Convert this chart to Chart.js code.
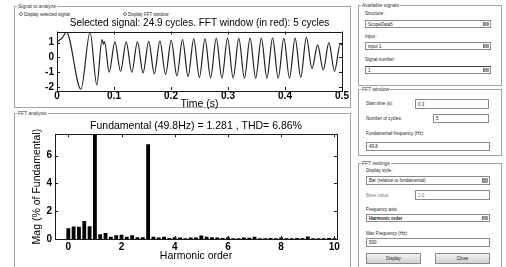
<!DOCTYPE html>
<html lang="en">
<head>
<meta charset="UTF-8">
<title>FFT Analysis</title>
<script src="https://cdn.jsdelivr.net/npm/chart.js@4.4.1/dist/chart.umd.min.js"></script>
<style>
    body {
        margin: 0;
        width: 506px;
        height: 267px;
        overflow: hidden;
        position: relative;
        background: #fff;
        font-family: Arial, "Liberation Sans", sans-serif;
    }
    .panel {
        position: absolute;
        border: 1px solid #a4a4a4;
        box-sizing: border-box;
    }
    .panel-title {
        position: absolute;
        top: -4px;
        left: 2px;
        padding: 0 1px;
        background: #fff;
        font-size: 5px;
        line-height: 7px;
        color: #333;
        white-space: nowrap;
    }
    .lbl {
        position: absolute;
        font-size: 4.5px;
        line-height: 5px;
        color: #222;
        white-space: nowrap;
    }
    .box {
        position: absolute;
        box-sizing: border-box;
        border: 1px solid #8a8a8a;
        background: #fff;
        font-size: 4.5px;
        color: #222;
        padding-left: 2px;
        white-space: nowrap;
        display: flex;
        align-items: center;
    }
    .sel .arrow {
        position: absolute;
        right: 1px;
        top: 1px;
        bottom: 1px;
        width: 5px;
        background: #9a9a9a;
        border-left: 1px solid #777;
    }
    .btn {
        position: absolute;
        box-sizing: border-box;
        border: 1px solid #8a8a8a;
        background: linear-gradient(#f4f4f4, #cfcfcf);
        font-size: 4.5px;
        color: #222;
        display: flex;
        align-items: center;
        justify-content: center;
    }
    .radio {
        position: absolute;
        width: 4px;
        height: 4px;
        border: 1px solid #777;
        border-radius: 50%;
        box-sizing: border-box;
        background: #fff;
    }
    canvas { position: absolute; }
</style>
</head>
<body>
    <!-- left side: signal and FFT plots -->
    <div class="panel" style="left:14px; top:6px; width:337px; height:102px;">
        <span class="panel-title">Signal to analyze</span>
    </div>
    <div class="radio" style="left:19px; top:12px; background:radial-gradient(#333 40%, #fff 45%);"></div>
    <span class="lbl" style="left:24px; top:12px;">Display selected signal</span>
    <div class="radio" style="left:123px; top:12px;"></div>
    <span class="lbl" style="left:128px; top:12px;">Display FFT window</span>

    <div class="panel" style="left:14px; top:113px; width:337px; height:170px;">
        <span class="panel-title">FFT analysis</span>
    </div>

    <canvas id="signalChart" width="336" height="96" style="left:14px; top:14px;"></canvas>
    <canvas id="fftChart" width="336" height="150" style="left:14px; top:116px;"></canvas>

    <!-- right side: controls -->
    <div class="panel" style="left:358px; top:5px; width:144px; height:81px;">
        <span class="panel-title">Available signals</span>
    </div>
    <span class="lbl" style="left:365px; top:11px;">Structure :</span>
    <div class="box sel" style="left:365px; top:20px; width:126px; height:8px;">ScopeData5<span class="arrow"></span></div>
    <span class="lbl" style="left:365px; top:34px;">Input :</span>
    <div class="box sel" style="left:365px; top:42px; width:126px; height:8px;">input 1<span class="arrow"></span></div>
    <span class="lbl" style="left:365px; top:57px;">Signal number :</span>
    <div class="box sel" style="left:365px; top:66px; width:126px; height:8px; border-top-color:#444;">1<span class="arrow"></span></div>

    <div class="panel" style="left:358px; top:89px; width:144px; height:67px;">
        <span class="panel-title">FFT window</span>
    </div>
    <span class="lbl" style="left:366px; top:101px;">Start time (s):</span>
    <div class="box" style="left:415px; top:99px; width:74px; height:10px;">0.3</div>
    <span class="lbl" style="left:366px; top:116px;">Number of cycles:</span>
    <div class="box" style="left:433px; top:114px; width:56px; height:9px;">5</div>
    <span class="lbl" style="left:366px; top:131px;">Fundamental frequency (Hz):</span>
    <div class="box" style="left:366px; top:142px; width:124px; height:9px;">49.8</div>

    <div class="panel" style="left:358px; top:163px; width:144px; height:110px;">
        <span class="panel-title">FFT settings</span>
    </div>
    <span class="lbl" style="left:366px; top:168px;">Display style :</span>
    <div class="box sel" style="left:366px; top:176px; width:124px; height:9px;">Bar (relative to fundamental)<span class="arrow"></span></div>
    <span class="lbl" style="left:366px; top:193px; color:#888;">Base value:</span>
    <div class="box" style="left:415px; top:190px; width:75px; height:10px; color:#777;">1.0</div>
    <span class="lbl" style="left:366px; top:207px;">Frequency axis:</span>
    <div class="box sel" style="left:366px; top:214px; width:124px; height:8px; font-weight:bold;">Harmonic order<span class="arrow"></span></div>
    <span class="lbl" style="left:366px; top:231px;">Max Frequency (Hz):</span>
    <div class="box" style="left:366px; top:238px; width:124px; height:9px;">500</div>
    <div class="btn" style="left:366px; top:253px; width:55px; height:11px;">Display</div>
    <div class="btn" style="left:435px; top:253px; width:55px; height:11px;">Close</div>

<script>
    // selected signal: peaks and troughs (s, value)
    const signalTime = [
        0, 0.004, 0.009, 0.0165, 0.042, 0.058, 0.0698, 0.079, 0.0815, 0.0835, 0.0915,
        0.1016, 0.1115, 0.1214, 0.1312, 0.1411, 0.1510, 0.1609, 0.1707, 0.1806, 0.1905,
        0.2004, 0.2103, 0.2202, 0.2300, 0.2399, 0.2498, 0.2597, 0.2695, 0.2794, 0.2893,
        0.2992, 0.3091, 0.3190, 0.3288, 0.3387, 0.3486, 0.3585, 0.3683, 0.3782, 0.3881,
        0.3980, 0.4079, 0.4178, 0.4276, 0.4375, 0.4474, 0.4573, 0.4671, 0.4770, 0.4869,
        0.4968, 0.5
    ];
    const signalValue = [
        1.0, 1.15, 1.3, 1.7, -2.15, 1.7, -1.85, 1.2, 0.9, 1.05, -1.0,
        1.05, -0.95, 1.05, -1.0, 1.05, -1.05, 1.08, -1.1, 1.1, -1.15,
        1.15, -1.25, 1.2, -1.3, 1.25, -1.35, 1.25, -1.38, 1.28, -1.4,
        1.28, -1.4, 1.28, -1.4, 1.3, -1.4, 1.3, -1.4, 1.3, -1.4,
        1.28, -1.4, 1.3, -1.35, 1.35, -0.75, 0.85, -0.85, 1.0, -0.95,
        0.9, 0.85
    ];
    const timeTicks = [0, 0.1, 0.2, 0.3, 0.4, 0.5];
    const signalTicks = [-2, -1, 0, 1];

    // FFT bars, % of fundamental
    const harmonicOrder = [
        0, 0.2, 0.4, 0.6, 0.8, 1, 1.2, 1.4, 1.6, 1.8,
        2, 2.2, 2.4, 2.6, 2.8, 3, 3.2, 3.4, 3.6, 3.8,
        4, 4.2, 4.4, 4.6, 4.8, 5, 5.2, 5.4, 5.6, 5.8,
        6, 6.2, 6.4, 6.6, 6.8, 7, 7.2, 7.4, 7.6, 7.8,
        8, 8.2, 8.4, 8.6, 8.8, 9, 9.2, 9.4, 9.6, 9.8, 10
    ];
    const harmonicMag = [
        0.78, 0.90, 0.88, 1.30, 0.92, 100, 0.34, 0.44, 0.17, 0.27,
        0.30, 0.17, 0.27, 0.12, 0.13, 6.83, 0.17, 0.10, 0.16, 0.07,
        0.12, 0.10, 0.05, 0.10, 0.10, 0.25, 0.16, 0.12, 0.10, 0.08,
        0.12, 0.05, 0.05, 0.10, 0.09, 0.16, 0.06, 0.05, 0.08, 0.05,
        0.10, 0.05, 0.06, 0.08, 0.07, 0.18, 0.06, 0.05, 0.05, 0.07, 0.06
    ];
    const orderTicks = [0, 2, 4, 6, 8, 10];
    const magTicks = [0, 2, 4, 6];

    const FONT = 'Arial, "Liberation Sans", sans-serif';

    // MATLAB-like box with inward tick marks on all four sides
    const axesBox = {
        id: 'axesBox',
        afterDraw(chart) {
            const { ctx, chartArea: a, scales } = chart;
            const len = 3;
            ctx.save();
            ctx.strokeStyle = '#1a1a1a';
            ctx.lineWidth = 1;
            ctx.strokeRect(Math.round(a.left) + 0.5, Math.round(a.top) + 0.5,
                Math.round(a.width), Math.round(a.height));
            ctx.beginPath();
            scales.x.ticks.forEach(t => {
                const px = Math.round(scales.x.getPixelForValue(t.value)) + 0.5;
                ctx.moveTo(px, a.bottom); ctx.lineTo(px, a.bottom - len);
                ctx.moveTo(px, a.top); ctx.lineTo(px, a.top + len);
            });
            scales.y.ticks.forEach(t => {
                const py = Math.round(scales.y.getPixelForValue(t.value)) + 0.5;
                ctx.moveTo(a.left, py); ctx.lineTo(a.left + len, py);
                ctx.moveTo(a.right, py); ctx.lineTo(a.right - len, py);
            });
            ctx.stroke();
            ctx.restore();
        }
    };

    function tickFont() {
        return { family: FONT, size: 10, weight: 'bold' };
    }

    new Chart(document.getElementById('signalChart'), {
        type: 'line',
        data: {
            datasets: [{
                data: signalTime.map((t, i) => ({ x: t, y: signalValue[i] })),
                borderColor: '#222',
                borderWidth: 1.2,
                pointRadius: 0,
                cubicInterpolationMode: 'monotone'
            }]
        },
        options: {
            responsive: false,
            animation: false,
            events: [],
            layout: { padding: { left: 0, right: 8, top: 0, bottom: 0 } },
            plugins: {
                legend: { display: false },
                tooltip: { enabled: false },
                title: {
                    display: true,
                    fullSize: false,
                    text: 'Selected signal: 24.9 cycles. FFT window (in red): 5 cycles',
                    color: '#000',
                    font: { family: FONT, size: 10, weight: 'normal' },
                    padding: { top: 3.5, bottom: 2 }
                }
            },
            scales: {
                x: {
                    type: 'linear',
                    min: 0,
                    max: 0.5,
                    grid: { display: false, drawTicks: false },
                    border: { display: false },
                    afterBuildTicks: s => { s.ticks = timeTicks.map(v => ({ value: v })); },
                    afterFit: s => { s.height = 20; s.paddingLeft = 0; s.paddingRight = 0; },
                    ticks: {
                        color: '#000', font: tickFont(), padding: 0,
                        maxRotation: 0, autoSkip: false,
                        callback: v => String(v)
                    },
                    title: {
                        display: true, text: 'Time (s)', color: '#000',
                        font: { family: FONT, size: 10.5 },
                        padding: { top: 0, bottom: 0 }
                    }
                },
                y: {
                    min: -2.2,
                    max: 1.75,
                    grid: { display: false, drawTicks: false },
                    border: { display: false },
                    afterBuildTicks: s => { s.ticks = signalTicks.map(v => ({ value: v })); },
                    afterFit: s => { s.width = 43; },
                    ticks: { color: '#000', font: tickFont(), padding: 3 }
                }
            }
        },
        plugins: [axesBox]
    });

    new Chart(document.getElementById('fftChart'), {
        type: 'bar',
        data: {
            datasets: [{
                data: harmonicOrder.map((h, i) => ({ x: h, y: harmonicMag[i] })),
                backgroundColor: '#000',
                borderWidth: 0,
                barPercentage: 0.9,
                categoryPercentage: 0.8
            }]
        },
        options: {
            responsive: false,
            animation: false,
            events: [],
            layout: { padding: { left: 0, right: 13, top: 0, bottom: 0 } },
            plugins: {
                legend: { display: false },
                tooltip: { enabled: false },
                title: {
                    display: true,
                    fullSize: false,
                    text: 'Fundamental (49.8Hz) = 1.281 , THD= 6.86%',
                    color: '#000',
                    font: { family: FONT, size: 10.5, weight: 'normal' },
                    padding: { top: 3.8, bottom: 1.8 }
                }
            },
            scales: {
                x: {
                    type: 'linear',
                    min: -0.5,
                    max: 10.1,
                    offset: false,
                    grid: { display: false, drawTicks: false },
                    border: { display: false },
                    afterBuildTicks: s => { s.ticks = orderTicks.map(v => ({ value: v })); },
                    afterFit: s => { s.height = 27; s.paddingLeft = 0; s.paddingRight = 0; },
                    ticks: { color: '#000', font: tickFont(), padding: 2, maxRotation: 0, autoSkip: false },
                    title: {
                        display: true, text: 'Harmonic order', color: '#000',
                        font: { family: FONT, size: 10.5 },
                        padding: { top: 0, bottom: 3.8 }
                    }
                },
                y: {
                    min: 0,
                    max: 7.55,
                    grid: { display: false, drawTicks: false },
                    border: { display: false },
                    afterBuildTicks: s => { s.ticks = magTicks.map(v => ({ value: v })); },
                    afterFit: s => { s.width = 41; },
                    ticks: { color: '#000', font: tickFont(), padding: 3 },
                    title: {
                        display: true, text: 'Mag (% of Fundamental)', color: '#000',
                        font: { family: FONT, size: 10.5 },
                        padding: { top: 16.8, bottom: 0 }
                    }
                }
            }
        },
        plugins: [axesBox]
    });
</script>
</body>
</html>
